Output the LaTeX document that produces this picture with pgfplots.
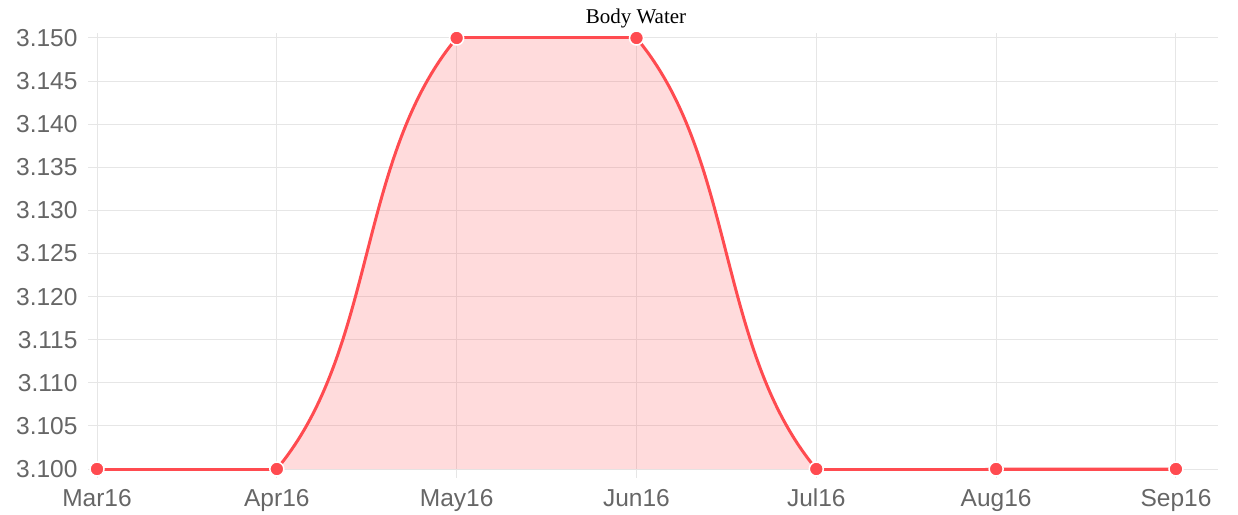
\documentclass[border=0pt]{standalone}
\usepackage{fontspec}
\setmainfont{Liberation Sans}
\newfontfamily\seriffont{Liberation Serif}
\usepackage{pgfplots}
\pgfplotsset{compat=1.18}
\definecolor{linered}{RGB}{255,75,80}
\definecolor{gridgray}{RGB}{230,230,230}
\definecolor{ticklab}{RGB}{102,102,102}
\begin{document}
\begin{tikzpicture}
\useasboundingbox (0,0) rectangle (1238pt,514pt);
\pgfplotsset{
 common/.style={scale only axis, width=1121pt, xmin=0, xmax=6.2336, at={(97pt,45pt)}, anchor=south west},
}
\begin{axis}[common, height=436pt, ymin=3.1, ymax=3.15058,
  axis line style={draw=none},
  grid=major, grid style={gridgray, line width=1pt},
  tick style={gridgray, line width=1pt},
  tick align=outside, major tick length=9pt, tick pos=left,
  xtick={0,1,2,3,4,5,6}, xticklabels={Mar16,Apr16,May16,Jun16,Jul16,Aug16,Sep16},
  ytick={3.100,3.105,3.110,3.115,3.120,3.125,3.130,3.135,3.140,3.145,3.150},
  /pgf/number format/assume math mode=true,
  yticklabel style={/pgf/number format/.cd, fixed, fixed zerofill, precision=3, /tikz/.cd, xshift=-7pt},
  xticklabel style={yshift=-7pt, text height=17.6pt, text depth=5.4pt},
  ticklabel style={font=\fontsize{24.5}{28}\selectfont, text=ticklab},
]
\addplot[draw=none] coordinates {(0,3.1)};
\end{axis}
\begin{axis}[common, height=431pt, ymin=3.1, ymax=3.15, hide axis, clip=true]
\addplot[smooth, tension=1.0, draw=none, fill=linered, fill opacity=0.2] coordinates {(0,3.100)(1,3.100)(2,3.150)(3,3.150)(4,3.100)(5,3.100)(6,3.100)} \closedcycle;
\addplot[smooth, tension=1.0, linered, line width=3pt, mark=none] coordinates {(0,3.100)(1,3.100)(2,3.150)(3,3.150)(4,3.100)(5,3.100)(6,3.100)};
\end{axis}
\begin{axis}[common, height=431pt, ymin=3.1, ymax=3.15, hide axis, clip=false]
\addplot[linered, line width=3pt, mark=none] coordinates {(0,3.100)(1,3.100)};
\addplot[linered, line width=3pt, mark=none] coordinates {(2,3.150)(3,3.150)};
\addplot[linered, line width=3pt, mark=none] coordinates {(4,3.100)(5,3.100)(6,3.100)};
\addplot[only marks, mark=*, mark size=7pt, mark options={fill=linered, draw=white, line width=1.5pt}] coordinates {(0,3.100)(1,3.100)(2,3.150)(3,3.150)(4,3.100)(5,3.100)(6,3.100)};
\end{axis}
\node[font=\seriffont\fontsize{21}{24}\selectfont, anchor=base] at (636pt,490pt) {Body Water};
\end{tikzpicture}
\end{document}
